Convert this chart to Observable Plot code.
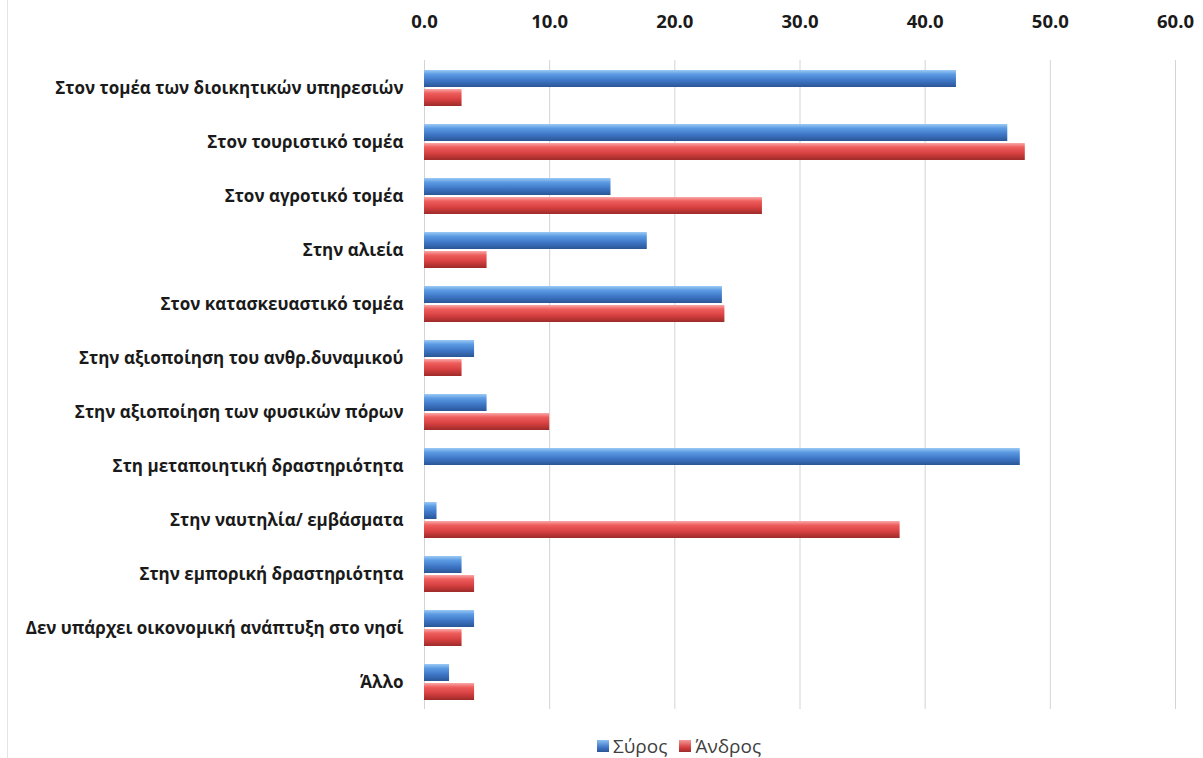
<!DOCTYPE html>
<html><head><meta charset="utf-8">
<script src="https://cdn.jsdelivr.net/npm/d3@7"></script>
<script src="https://cdn.jsdelivr.net/npm/@observablehq/plot@0.6"></script>
<style>
html,body{margin:0;padding:0;background:#fff;}
#wrap{position:relative;width:1203px;height:758px;overflow:hidden;}
#legend{position:absolute;left:597px;top:734px;height:24px;line-height:24px;font-family:"Open Sans",sans-serif;font-size:19px;color:#404040;display:flex;align-items:center;white-space:nowrap;}
#legend .sw{display:inline-block;width:12px;height:12px;margin-right:4px;}
#legend .item{display:flex;align-items:center;margin-right:12px;}
#border{position:absolute;left:7px;top:0;width:1px;height:758px;background:#e4e4e4;}
</style></head>
<body><div id="wrap"><div id="border"></div><div id="chart"></div><div id="legend"></div></div>
<script>
const categories = [
  "Στον τομέα των διοικητικών υπηρεσιών",
  "Στον τουριστικό τομέα",
  "Στον αγροτικό τομέα",
  "Στην αλιεία",
  "Στον κατασκευαστικό τομέα",
  "Στην αξιοποίηση του ανθρ.δυναμικού",
  "Στην αξιοποίηση των φυσικών πόρων",
  "Στη μεταποιητική δραστηριότητα",
  "Στην ναυτηλία/ εμβάσματα",
  "Στην εμπορική δραστηριότητα",
  "Δεν υπάρχει οικονομική ανάπτυξη στο νησί",
  "Άλλο"
];
const syros  = [42.5, 46.6, 14.9, 17.8, 23.8, 4.0, 5.0, 47.6, 1.0, 3.0, 4.0, 2.0];
const andros = [3.0, 48.0, 27.0, 5.0, 24.0, 3.0, 10.0, 0, 38.0, 4.0, 3.0, 4.0];
const seriesNames = ["Σύρος", "Άνδρος"];
const xTicks = [0, 10, 20, 30, 40, 50, 60];

const dataS = categories.map((c, i) => ({category: c, value: syros[i]}));
const dataA = categories.map((c, i) => ({category: c, value: andros[i]}));

const chart = Plot.plot({
  width: 1203,
  height: 720,
  marginLeft: 424,
  marginRight: 28,
  marginTop: 60,
  marginBottom: 11,
  style: {background: "#fff", fontFamily: "'Open Sans', sans-serif"},
  x: {domain: [0, 60]},
  y: {domain: categories, paddingInner: 0.335, paddingOuter: 0.1675},
  marks: [
    Plot.gridX(xTicks, {stroke: "#d4d4d4", strokeOpacity: 1, strokeWidth: 1}),
    Plot.axisX({anchor: "top", ticks: xTicks, tickSize: 0, tickPadding: 33, tickFormat: d3.format(".1f"),
      fontSize: 18.5, fontWeight: "bold", fill: "#1a1a1a", label: null}),
    Plot.axisY({anchor: "left", tickSize: 0, tickPadding: 21, fontSize: 17, fontWeight: "bold", fill: "#1a1a1a", label: null}),
    Plot.barX(dataS, {x: "value", y: "category", fill: "url(#gBlue)", insetBottom: 19}),
    Plot.barX(dataA, {x: "value", y: "category", fill: "url(#gRed)", insetTop: 19})
  ]
});

const ns = "http://www.w3.org/2000/svg";
const defs = document.createElementNS(ns, "defs");
function grad(id, stops) {
  const g = document.createElementNS(ns, "linearGradient");
  g.setAttribute("id", id);
  g.setAttribute("x1", "0"); g.setAttribute("y1", "0");
  g.setAttribute("x2", "0"); g.setAttribute("y2", "1");
  stops.forEach(([o, c]) => {
    const s = document.createElementNS(ns, "stop");
    s.setAttribute("offset", o); s.setAttribute("stop-color", c);
    g.appendChild(s);
  });
  defs.appendChild(g);
}
grad("gBlue", [["0", "#9ccaf5"], ["0.25", "#5c9be3"], ["0.6", "#3f78c8"], ["1", "#2a5596"]]);
grad("gRed", [["0", "#f9a8a8"], ["0.25", "#ee5c5c"], ["0.6", "#d84141"], ["1", "#9e2a2a"]]);
chart.insertBefore(defs, chart.firstChild);
document.getElementById("chart").appendChild(chart);

const legend = document.getElementById("legend");
const legendFills = ["linear-gradient(#8cc0f0,#3f78c8 60%,#2a5596)", "linear-gradient(#f39a9a,#d84141 60%,#9e2a2a)"];
seriesNames.forEach((n, i) => {
  const it = document.createElement("span");
  it.className = "item";
  const sw = document.createElement("span");
  sw.className = "sw";
  sw.style.background = legendFills[i];
  it.appendChild(sw);
  it.appendChild(document.createTextNode(n));
  legend.appendChild(it);
});
</script></body></html>
